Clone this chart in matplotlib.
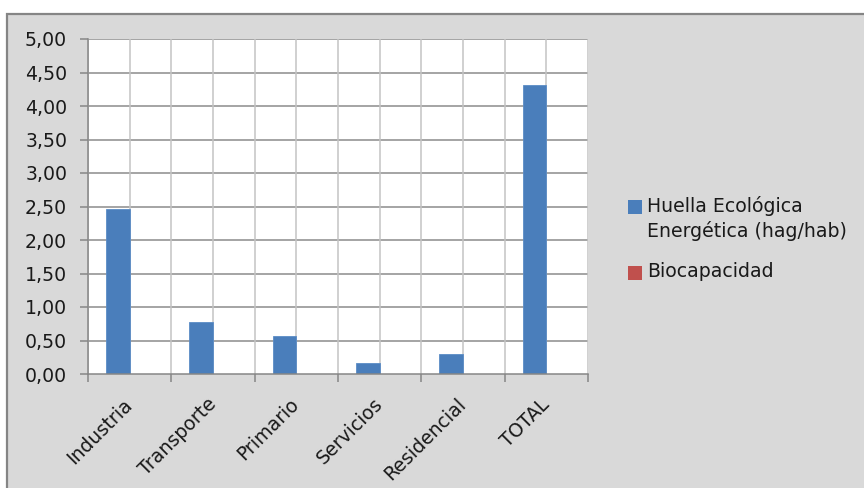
import numpy as np
import matplotlib
matplotlib.use("Agg")
import matplotlib.pyplot as plt
from matplotlib.patches import Rectangle
from matplotlib.ticker import FuncFormatter, MultipleLocator

sectores = ["Industria", "Transporte", "Primario", "Servicios", "Residencial", "TOTAL"]
huella = [2.46, 0.77, 0.57, 0.17, 0.30, 4.31]
biocapacidad = [0, 0, 0, 0, 0, 0]

azul = "#4A7EBB"
rojo = "#C0504D"
fondo = "#D9D9D9"
tam = 13.6

fig = plt.figure(figsize=(8.64, 4.88), dpi=100)
fig.patch.set_facecolor("white")

# marco gris del grafico
marco = Rectangle((7 / 864, -0.05), 1.1, 1 - 14 / 488 + 0.05, transform=fig.transFigure,
                  facecolor=fondo, edgecolor="#858585", linewidth=1.6, zorder=-1)
fig.patches.append(marco)

ax = fig.add_axes([88 / 864, 1 - 374 / 488, 500 / 864, 335 / 488])
ax.set_zorder(1)
ax.set_facecolor("white")

x = np.arange(len(sectores))
w = 1 / 3.5
b1 = ax.bar(x - w / 2, huella, w, color=azul, edgecolor="#5B8CC6", linewidth=0.6,
            label="Huella Ecológica\nEnergética (hag/hab)", zorder=3)
b2 = ax.bar(x + w / 2, biocapacidad, w, color=rojo, label="Biocapacidad", zorder=3)

ax.set_xlim(-0.5, len(sectores) - 0.5)
ax.set_ylim(0, 5)
ax.yaxis.set_major_locator(MultipleLocator(0.5))
ax.yaxis.set_major_formatter(FuncFormatter(lambda v, p: f"{v:.2f}".replace(".", ",")))

# rejilla: horizontales mas oscuras, verticales cada media categoria
for v in np.arange(0.5, 5.01, 0.5):
    ax.axhline(v, color="#8C8C8C", linewidth=1.1, zorder=1)
for v in np.arange(-0.5, len(sectores) - 0.4, 0.5):
    ax.axvline(v, color="#C4C4C4", linewidth=1.1, zorder=1)

for s in ["top", "right"]:
    ax.spines[s].set_visible(False)
for s in ["left", "bottom"]:
    ax.spines[s].set_color("#868686")
    ax.spines[s].set_linewidth(1.1)
    ax.spines[s].set_zorder(4)

ax.set_xticks(np.arange(-0.5, len(sectores), 1))
ax.set_xticklabels([])
ax.tick_params(axis="x", length=6, color="#868686", width=1.1)
ax.tick_params(axis="y", length=6, color="#868686", width=1.1, labelsize=tam,
               labelcolor="#1a1a1a", pad=9)

for i, nombre in enumerate(sectores):
    ax.text(i - 0.08, -0.31, nombre, rotation=45, ha="right", va="top",
            rotation_mode="anchor", fontsize=tam, color="#1a1a1a")

# leyenda a mano: el cuadro va a la altura de la primera linea del texto
W, H = 864, 488
entradas = [(b1, 207), (b2, 273)]
for cont, yc in entradas:
    color = cont.patches[0].get_facecolor()
    fig.patches.append(Rectangle((628 / W, 1 - (yc + 7) / H), 14 / W, 14 / H,
                                 transform=fig.transFigure, facecolor=color,
                                 edgecolor="none", zorder=2))
    fig.text(647 / W, 1 - (yc - 11) / H, cont.get_label(), ha="left", va="top",
             fontsize=tam, color="#1a1a1a", linespacing=1.3)

fig.savefig("out.png", dpi=100, facecolor=fig.get_facecolor())
